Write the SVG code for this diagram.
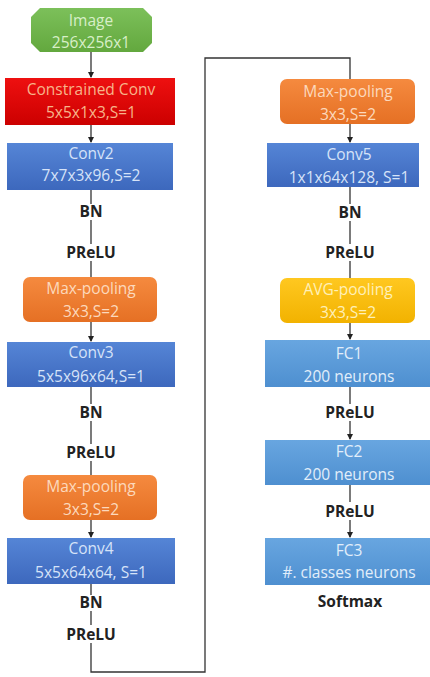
<svg xmlns="http://www.w3.org/2000/svg" width="430" height="677" viewBox="0 0 430 677">
<defs>
<marker id="arr" markerWidth="6" markerHeight="6" refX="5" refY="3" orient="auto" markerUnits="userSpaceOnUse">
<path d="M0,0 L6,3 L0,6 z" fill="#222"/>
</marker>
<linearGradient id="gGreen" x1="0" y1="0" x2="0" y2="1"><stop offset="0" stop-color="#7cc05a"/><stop offset="1" stop-color="#63a83e"/></linearGradient>
<linearGradient id="gRed" x1="0" y1="0" x2="0" y2="1"><stop offset="0" stop-color="#ee1010"/><stop offset="1" stop-color="#cc0000"/></linearGradient>
<linearGradient id="gBlue" x1="0" y1="0" x2="0" y2="1"><stop offset="0" stop-color="#5585d6"/><stop offset="1" stop-color="#3d68bd"/></linearGradient>
<linearGradient id="gOrange" x1="0" y1="0" x2="0" y2="1"><stop offset="0" stop-color="#f58a3f"/><stop offset="1" stop-color="#e57024"/></linearGradient>
<linearGradient id="gYellow" x1="0" y1="0" x2="0" y2="1"><stop offset="0" stop-color="#ffc820"/><stop offset="1" stop-color="#f2b200"/></linearGradient>
<linearGradient id="gFc" x1="0" y1="0" x2="0" y2="1"><stop offset="0" stop-color="#68a6e0"/><stop offset="1" stop-color="#4e8fd0"/></linearGradient>
</defs>
<style>
.t{font-family:"Open Sans","Liberation Sans",sans-serif;font-size:15.5px;text-anchor:middle}
.lab{font-family:"Open Sans","Liberation Sans",sans-serif;font-size:15.5px;font-weight:bold;text-anchor:middle;fill:#222}
.tg{fill:#d8efc8}.tr{fill:#f7b48a}.tb{fill:#d6e3f8}.to{fill:#fcd9bd}.ty{fill:#fff0b8}.tf{fill:#e2eefa}
.c{fill:none;stroke:#333;stroke-width:1.3}
.ca{fill:none;stroke:#333;stroke-width:1.3;marker-end:url(#arr)}
</style>
<rect width="430" height="677" fill="#fff"/>
<g id="connectors">
<path class="ca" d="M91,52 V77"/>
<path class="ca" d="M91,125 V142"/>
<path class="c" d="M91,190 V204"/>
<path class="c" d="M91,220 V244"/>
<path class="c" d="M91,261 V277"/>
<path class="ca" d="M91,322 V341"/>
<path class="c" d="M91,387 V404"/>
<path class="c" d="M91,421 V444"/>
<path class="c" d="M91,461 V475"/>
<path class="ca" d="M91,520 V537"/>
<path class="c" d="M91,584 V595"/>
<path class="c" d="M91,611 V625"/>
<path class="c" d="M91,643 V672 H205 V58 H350 V79"/>
<path class="ca" d="M350,124 V142"/>
<path class="c" d="M350,187 V204"/>
<path class="c" d="M350,221 V244"/>
<path class="c" d="M350,261 V278"/>
<path class="ca" d="M350,323 V339"/>
<path class="c" d="M350,387 V404"/>
<path class="ca" d="M350,421 V439"/>
<path class="c" d="M350,485 V502"/>
<path class="ca" d="M350,520 V537"/>
</g>
<g id="image">
<polygon points="40,8 143,8 152,17 152,43 143,52 40,52 31,43 31,17" fill="url(#gGreen)"/>
<text class="t tg" x="91" y="26">Image</text>
<text class="t tg" x="91" y="48">256x256x1</text>
</g>
<g id="constrained-conv">
<rect x="5" y="78" width="170" height="47" fill="url(#gRed)"/>
<text class="t tr" x="91" y="95">Constrained Conv</text>
<text class="t tr" x="91" y="118">5x5x1x3,S=1</text>
</g>
<g id="conv2">
<rect x="7" y="143" width="166" height="47" fill="url(#gBlue)"/>
<text class="t tb" x="91" y="159">Conv2</text>
<text class="t tb" x="91" y="181">7x7x3x96,S=2</text>
</g>
<g id="bn1"><text class="lab" x="91" y="217">BN</text></g>
<g id="prelu1"><text class="lab" x="91" y="258">PReLU</text></g>
<g id="maxpool1">
<rect x="23" y="277" width="134" height="45" rx="7" fill="url(#gOrange)"/>
<text class="t to" x="91" y="294">Max-pooling</text>
<text class="t to" x="91" y="317">3x3,S=2</text>
</g>
<g id="conv3">
<rect x="7" y="342" width="168" height="45" fill="url(#gBlue)"/>
<text class="t tb" x="91" y="358">Conv3</text>
<text class="t tb" x="91" y="382">5x5x96x64,S=1</text>
</g>
<g id="bn2"><text class="lab" x="91" y="418">BN</text></g>
<g id="prelu2"><text class="lab" x="91" y="458">PReLU</text></g>
<g id="maxpool2">
<rect x="23" y="475" width="134" height="45" rx="7" fill="url(#gOrange)"/>
<text class="t to" x="91" y="492">Max-pooling</text>
<text class="t to" x="91" y="515">3x3,S=2</text>
</g>
<g id="conv4">
<rect x="7" y="538" width="168" height="46" fill="url(#gBlue)"/>
<text class="t tb" x="91" y="554">Conv4</text>
<text class="t tb" x="91" y="578">5x5x64x64, S=1</text>
</g>
<g id="bn3"><text class="lab" x="91" y="608">BN</text></g>
<g id="prelu3"><text class="lab" x="91" y="640">PReLU</text></g>
<g id="maxpool3">
<rect x="280" y="79" width="135" height="45" rx="7" fill="url(#gOrange)"/>
<text class="t to" x="348" y="97">Max-pooling</text>
<text class="t to" x="348" y="120">3x3,S=2</text>
</g>
<g id="conv5">
<rect x="267" y="143" width="152" height="44" fill="url(#gBlue)"/>
<text class="t tb" x="349" y="160">Conv5</text>
<text class="t tb" x="349" y="183">1x1x64x128, S=1</text>
</g>
<g id="bn4"><text class="lab" x="350" y="218">BN</text></g>
<g id="prelu4"><text class="lab" x="350" y="258">PReLU</text></g>
<g id="avgpool">
<rect x="280" y="278" width="135" height="45" rx="7" fill="url(#gYellow)"/>
<text class="t ty" x="348" y="295">AVG-pooling</text>
<text class="t ty" x="348" y="318">3x3,S=2</text>
</g>
<g id="fc1">
<rect x="265" y="340" width="168" height="47" fill="url(#gFc)"/>
<text class="t tf" x="349" y="359">FC1</text>
<text class="t tf" x="349" y="382">200 neurons</text>
</g>
<g id="prelu5"><text class="lab" x="350" y="418">PReLU</text></g>
<g id="fc2">
<rect x="265" y="440" width="168" height="45" fill="url(#gFc)"/>
<text class="t tf" x="349" y="457">FC2</text>
<text class="t tf" x="349" y="480">200 neurons</text>
</g>
<g id="prelu6"><text class="lab" x="350" y="517">PReLU</text></g>
<g id="fc3">
<rect x="265" y="538" width="168" height="47" fill="url(#gFc)"/>
<text class="t tf" x="349" y="556">FC3</text>
<text class="t tf" x="349" y="578">#. classes neurons</text>
</g>
<g id="softmax"><text class="lab" x="350" y="607">Softmax</text></g>
</svg>
